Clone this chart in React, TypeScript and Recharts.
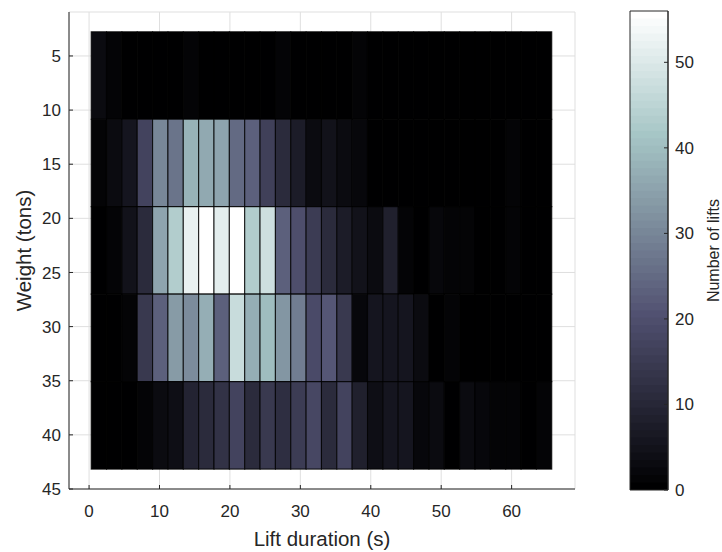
import React from "react";
import { ComposedChart, XAxis, YAxis, CartesianGrid, ReferenceArea } from "recharts";

// tick labels
const durationTicks = [0, 10, 20, 30, 40, 50, 60];
const weightTicks = [5, 10, 15, 20, 25, 30, 35, 40, 45];
const countTicks = [0, 10, 20, 30, 40, 50];

// histogram binning (duration in s, weight in tons)
const durationRange = [0.3, 65.7];
const durationBins = 30;
const weightEdges = [2.76, 10.84, 18.92, 27.0, 35.08, 43.16];

// number of lifts per duration bin, one array per weight band
const liftsWeight1 = [3, 1, 0, 0, 0, 0, 1, 0, 0, 0, 0, 0, 1, 0, 0, 0, 0, 1, 0, 0, 0, 0, 0, 0, 0, 0, 0, 0, 0, 0];
const liftsWeight2 = [1, 3, 6, 17, 30, 27, 38, 36, 35, 25, 23, 16, 11, 7, 3, 5, 3, 2, 0, 0, 0, 0, 0, 0, 0, 0, 0, 1, 0, 0];
const liftsWeight3 = [0, 1, 5, 11, 35, 43, 52, 56, 51, 56, 43, 48, 23, 20, 15, 11, 7, 5, 3, 8, 1, 0, 2, 1, 1, 0, 0, 1, 0, 0];
const liftsWeight4 = [0, 0, 1, 14, 23, 34, 31, 37, 23, 47, 37, 40, 33, 28, 19, 21, 14, 2, 6, 6, 6, 3, 0, 1, 0, 0, 0, 0, 0, 0];
const liftsWeight5 = [0, 0, 0, 1, 3, 4, 9, 11, 13, 17, 11, 14, 12, 15, 18, 11, 17, 8, 4, 6, 6, 2, 3, 0, 3, 2, 1, 1, 0, 1];
const liftRows = [liftsWeight1, liftsWeight2, liftsWeight3, liftsWeight4, liftsWeight5];

const COUNT_MAX = 56;
const LEVELS = 64;
const INK = "#262626";
const FONT = "'Liberation Sans', Arial, Helvetica, sans-serif";

// matlab "bone" colormap, index 1..64
const bone = (i: number) => {
  const gray = (i - 1) / (LEVELS - 1);
  const hr = Math.min(1, i / 24);
  const hg = Math.max(0, Math.min(1, (i - 24) / 24));
  const hb = Math.max(0, Math.min(1, (i - 48) / 16));
  const to = (v: number) => Math.round(((7 * gray + v) / 8) * 255);
  return `rgb(${to(hb)},${to(hg)},${to(hr)})`;
};

const countColor = (c: number) =>
  bone(Math.min(LEVELS, Math.floor((c / COUNT_MAX) * LEVELS) + 1));

const binWidth = (durationRange[1] - durationRange[0]) / durationBins;

const cells = liftRows.flatMap((row, r) =>
  row.map((count, i) => ({
    x1: durationRange[0] + i * binWidth,
    x2: durationRange[0] + (i + 1) * binWidth,
    y1: weightEdges[r],
    y2: weightEdges[r + 1],
    count,
  }))
);

// each step runs to the top so the next one covers it (no seams)
const colorSteps = Array.from({ length: LEVELS }, (_, k) => ({
  y1: (k * COUNT_MAX) / LEVELS,
  color: bone(k + 1),
}));

const tickStyle = { fill: INK, fontSize: 17 };

const App = () => {
  return (
    <div style={{ position: "absolute", left: 0, top: 0, width: 722, height: 552, fontFamily: FONT, background: "#fff", overflow: "hidden" }}>
      <div style={{ position: "absolute", left: 0, top: 0 }}>
        <ComposedChart width={722} height={552} margin={{ top: 12, right: 147, bottom: 3, left: 19 }} data={[]}>
          <CartesianGrid stroke="#dfdfdf" />
          <XAxis
            type="number"
            dataKey="x"
            domain={[-2.85, 69]}
            ticks={durationTicks}
            interval={0}
            allowDataOverflow
            height={60}
            tickSize={-4}
            tickMargin={20}
            stroke={INK}
            tick={tickStyle}
            label={{ value: "Lift duration (s)", position: "insideBottom", offset: 3, fontSize: 20.5, fill: INK }}
          />
          <YAxis
            type="number"
            dataKey="y"
            domain={[0.94, 45]}
            reversed
            ticks={weightTicks}
            interval={0}
            allowDataOverflow
            width={50}
            tickSize={-4}
            tickMargin={12}
            stroke={INK}
            tick={tickStyle}
            label={{ value: "Weight (tons)", angle: -90, position: "insideLeft", offset: 5, fontSize: 20.5, fill: INK, style: { textAnchor: "middle" } }}
          />
          {cells.map((c, i) => (
            <ReferenceArea
              key={i}
              x1={c.x1}
              x2={c.x2}
              y1={c.y1}
              y2={c.y2}
              fill={countColor(c.count)}
              fillOpacity={1}
              stroke="#000"
              strokeOpacity={0.8}
              strokeWidth={1.1}
              isAnimationActive={false}
            />
          ))}
        </ComposedChart>
      </div>
      <div style={{ position: "absolute", left: 0, top: 0 }}>
        <ComposedChart width={722} height={552} margin={{ top: 11, right: 4, bottom: 62, left: 630 }} data={[]}>
          <XAxis hide type="number" dataKey="x" domain={[0, 1]} allowDataOverflow />
          <YAxis
            type="number"
            dataKey="y"
            orientation="right"
            domain={[0, COUNT_MAX]}
            ticks={countTicks}
            interval={0}
            allowDataOverflow
            width={50}
            tickSize={-4}
            tickMargin={11}
            stroke={INK}
            tick={tickStyle}
            label={{ value: "Number of lifts", angle: -90, position: "insideRight", offset: 5, fontSize: 16, fill: INK, style: { textAnchor: "middle" } }}
          />
          {colorSteps.map((s, k) => (
            <ReferenceArea key={k} x1={0} x2={1} y1={s.y1} y2={COUNT_MAX} fill={s.color} fillOpacity={1} stroke="none" ifOverflow="visible" />
          ))}
          <ReferenceArea x1={0} x2={1} y1={0} y2={COUNT_MAX} fill="none" fillOpacity={0} stroke={INK} strokeWidth={1} ifOverflow="visible" />
        </ComposedChart>
      </div>
    </div>
  );
};

export default App;
